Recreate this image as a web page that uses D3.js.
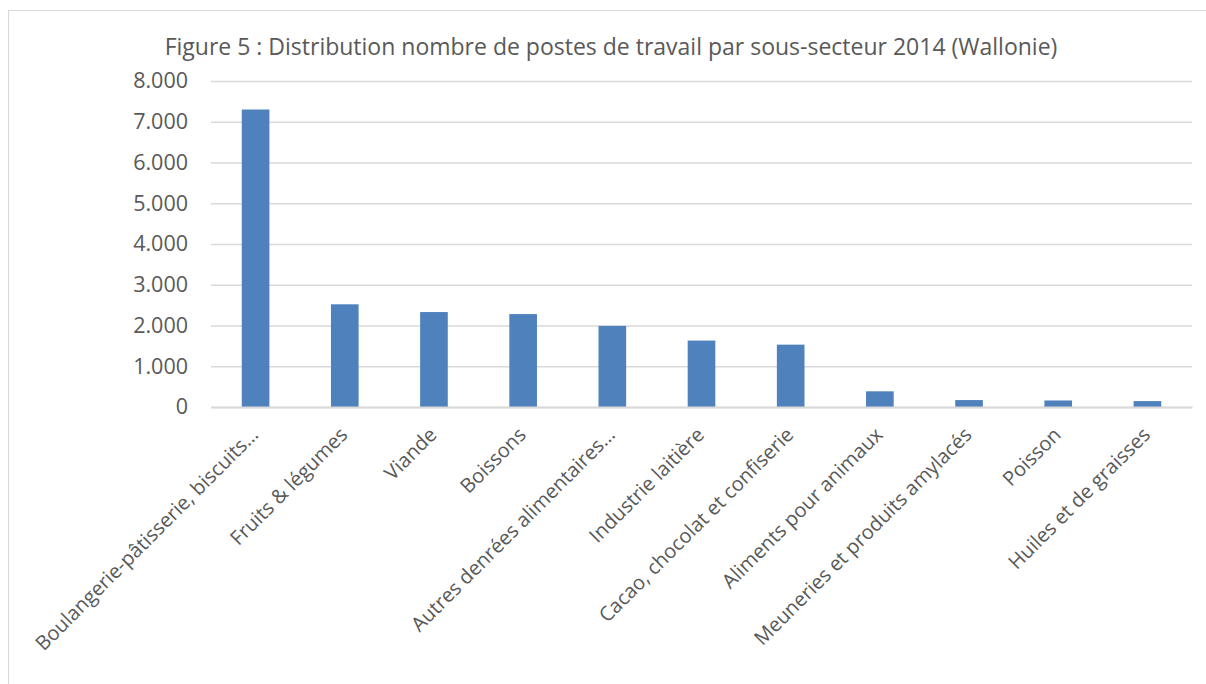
<!DOCTYPE html>
<html lang="fr">
<head>
  <meta charset="utf-8">
  <title>Figure 5</title>
  <script src="https://cdn.jsdelivr.net/npm/d3@7"></script>
  <style>
    body { margin: 0; background: #fff; }
    text { font-family: "Open Sans", "Noto Sans", sans-serif; fill: #595959; }
  </style>
</head>
<body>
  <div id="chart"></div>
  <script>
    // données
    const categories = [
      'Boulangerie-pâtisserie, biscuits…',
      'Fruits & légumes',
      'Viande',
      'Boissons',
      'Autres denrées alimentaires…',
      'Industrie laitière',
      'Cacao, chocolat et confiserie',
      'Aliments pour animaux',
      'Meuneries et produits amylacés',
      'Poisson',
      'Huiles et de graisses'
    ]
    const postes = [7300, 2520, 2330, 2280, 1990, 1630, 1530, 385, 170, 160, 145]
    const yTicks = [0, 1000, 2000, 3000, 4000, 5000, 6000, 7000, 8000]
    const titre = 'Figure 5 : Distribution nombre de postes de travail par sous-secteur 2014 (Wallonie)'

    const width = 1206
    const height = 684
    const margin = { top: 81, right: 14, bottom: 277, left: 211 }

    const svg = d3.select('#chart')
      .append('svg')
      .attr('width', width)
      .attr('height', height)

    // cadre du graphique (coupé à droite et en bas)
    svg.append('rect')
      .attr('x', 8.5)
      .attr('y', 10.5)
      .attr('width', width + 10)
      .attr('height', height + 10)
      .attr('fill', 'none')
      .attr('stroke', '#d9d9d9')

    const x = d3.scaleBand()
      .domain(categories)
      .range([margin.left, width - margin.right])
      .paddingInner(0.69)
      .paddingOuter(0.345)

    const y = d3.scaleLinear()
      .domain([0, 8000])
      .range([height - margin.bottom, margin.top])

    const fmt = d => d3.format(',')(d).replace(/,/g, '.')

    // quadrillage + étiquettes de l'axe Y
    const yAxis = d3.axisLeft(y)
      .tickValues(yTicks)
      .tickSize(-(width - margin.right - margin.left))
      .tickPadding(23)
      .tickFormat(fmt)

    const gy = svg.append('g')
      .attr('transform', `translate(${margin.left},0)`)
      .call(yAxis)
    gy.select('.domain').remove()
    gy.selectAll('.tick line').attr('stroke', '#d9d9d9').attr('stroke-width', 1.3)
    gy.selectAll('.tick text')
      .style('font-size', '21.5px')
      .attr('fill', '#595959')

    // barres
    svg.append('g')
      .selectAll('rect')
      .data(postes)
      .enter()
      .append('rect')
      .attr('x', (d, i) => x(categories[i]))
      .attr('y', d => y(d))
      .attr('width', x.bandwidth())
      .attr('height', d => y(0) - y(d))
      .attr('fill', '#4f81bd')

    // axe X
    const xAxis = d3.axisBottom(x).tickSize(0).tickPadding(0)
    const gx = svg.append('g')
      .attr('transform', `translate(0,${y(0)})`)
      .call(xAxis)
    gx.select('.domain').attr('stroke', '#d9d9d9').attr('stroke-width', 2)
    gx.selectAll('.tick text')
      .style('font-size', '20px')
      .attr('fill', '#595959')
      .attr('text-anchor', 'end')
      .attr('dy', 0)
      .attr('transform', 'translate(4,29) rotate(-45)')

    // titre
    svg.append('text')
      .attr('x', 611)
      .attr('y', 55)
      .attr('text-anchor', 'middle')
      .style('font-size', '23px')
      .text(titre)
  </script>
</body>
</html>
